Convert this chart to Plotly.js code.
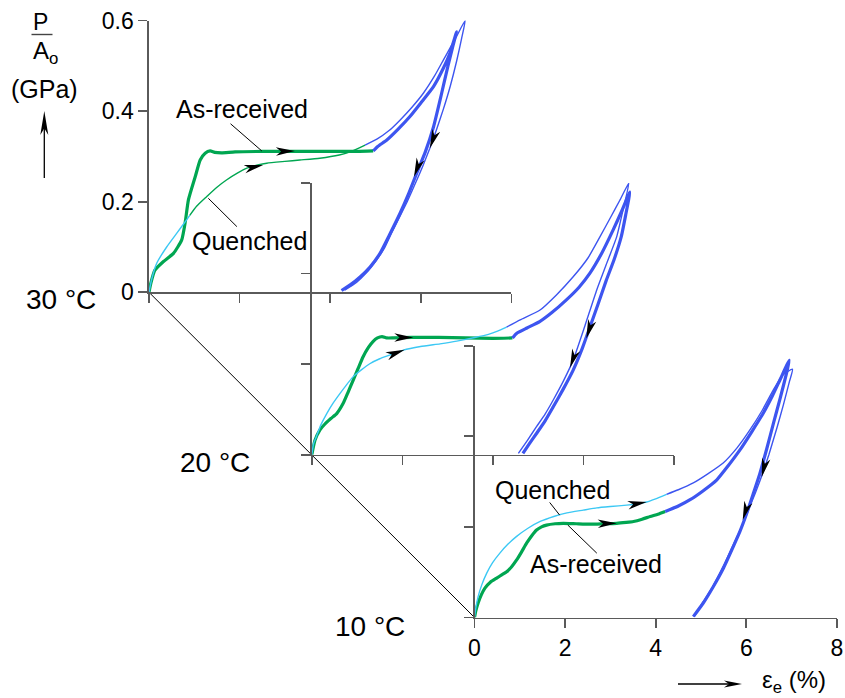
<!DOCTYPE html>
<html><head><meta charset="utf-8">
<script src="https://cdn.plot.ly/plotly-3.0.1.min.js"></script>
<style>html,body{margin:0;padding:0;background:#fff}</style>
</head><body><div id="chart" style="width:845px;height:698px"></div>
<script>
// ---------------- data ----------------
const xTickVals = [0, 2, 4, 6, 8];
const xTickText = ['0', '2', '4', '6', '8'];
const yTickVals = [0, 0.2, 0.4, 0.6];
const yTickText = ['0', '0.2', '0.4', '0.6'];
const panelLabels = ['30 °C', '20 °C', '10 °C'];

// 30 °C
const p30_arGreenX = [0,0.04,0.13,0.32,0.54,0.72,0.8,0.87,1.02,1.13,1.24,1.35,1.45,1.6,1.9,2.5,3.2,4.0,4.6,4.95];
const p30_arGreenY = [0,0.02,0.049,0.068,0.086,0.115,0.155,0.204,0.255,0.292,0.307,0.312,0.309,0.308,0.310,0.311,0.311,0.311,0.311,0.312];
const p30_arBlueX = [4.95,5.05,5.25,5.5,5.76,6.0,6.28,6.5,6.64,6.79,6.7,6.6,6.45,6.28,6.1,5.91,5.72,5.54,5.3,5.1,4.88,4.66,4.45,4.25];
const p30_arBlueY = [0.312,0.322,0.336,0.36,0.388,0.418,0.454,0.495,0.527,0.575,0.54,0.5,0.435,0.365,0.31,0.263,0.215,0.174,0.125,0.086,0.056,0.034,0.017,0.004];
const p30_qCyanX = [0,0.05,0.17,0.39,0.61,0.83,0.9];
const p30_qCyanY = [0,0.025,0.064,0.1,0.13,0.16,0.17];
const p30_qGreenX = [0.9,1.05,1.27,1.5,1.71,1.95,2.16,2.4,2.6,3.0,3.33,3.77,4.2,4.47,4.77];
const p30_qGreenY = [0.17,0.19,0.211,0.232,0.248,0.263,0.274,0.281,0.285,0.289,0.292,0.296,0.303,0.311,0.325];
const p30_qBlueX = [4.77,5.03,5.3,5.54,5.8,6.06,6.3,6.5,6.65,6.79,6.98,6.9,6.79,6.65,6.5,6.35,6.2,6.05,5.9,5.7,5.5,5.35,5.2,5.0,4.8,4.58,4.32];
const p30_qBlueY = [0.325,0.338,0.357,0.38,0.408,0.44,0.477,0.513,0.54,0.565,0.6,0.56,0.51,0.455,0.405,0.36,0.318,0.28,0.245,0.2,0.16,0.13,0.098,0.068,0.043,0.022,0.005];
const p30_arrowTipX = [3.22, 2.52, 6.2, 5.85];
const p30_arrowTipY = [0.312, 0.281, 0.318, 0.255];
const p30_arrowFromX = [2.9, 2.2, 6.35, 5.98];
const p30_arrowFromY = [0.311, 0.274, 0.36, 0.29];

// 20 °C
const p20_arGreenX = [0,0.07,0.18,0.29,0.42,0.55,0.69,0.8,0.91,1.02,1.13,1.25,1.35,1.45,1.55,1.65,1.8,2.2,2.8,3.4,4.0,4.43];
const p20_arGreenY = [0,0.032,0.055,0.068,0.08,0.091,0.113,0.138,0.164,0.19,0.216,0.237,0.25,0.258,0.261,0.258,0.258,0.259,0.259,0.258,0.257,0.258];
const p20_arBlueX = [4.43,4.52,4.75,5.03,5.3,5.62,5.9,6.14,6.4,6.65,6.85,7.02,6.93,6.83,6.67,6.5,6.32,6.14,5.96,5.77,5.55,5.33,5.15,4.96,4.8,4.66];
const p20_arBlueY = [0.258,0.268,0.28,0.294,0.314,0.342,0.37,0.401,0.445,0.496,0.54,0.58,0.53,0.481,0.43,0.385,0.333,0.282,0.232,0.187,0.145,0.106,0.075,0.047,0.024,0.003];
const p20_qCyanX = [0,0.04,0.1,0.2,0.33,0.47,0.62,0.77,0.91,1.1,1.28,1.5,1.72,2.02,2.4,2.83,3.2,3.6,3.9,4.1,4.3];
const p20_qCyanY = [0,0.025,0.04,0.066,0.091,0.114,0.135,0.155,0.172,0.188,0.201,0.212,0.22,0.231,0.239,0.245,0.251,0.259,0.266,0.273,0.282];
const p20_qBlueX = [4.3,4.6,5.03,5.4,5.77,6.1,6.36,6.6,6.8,7.0,6.87,6.73,6.5,6.29,6.03,5.77,5.55,5.33,5.15,4.96,4.76,4.56];
const p20_qBlueY = [0.282,0.298,0.319,0.353,0.393,0.435,0.481,0.525,0.562,0.6,0.54,0.481,0.42,0.364,0.285,0.209,0.162,0.121,0.09,0.062,0.032,0.003];
const p20_arrowTipX = [2.24, 2.05, 6.06, 5.7];
const p20_arrowTipY = [0.259, 0.232, 0.257, 0.192];
const p20_arrowFromX = [1.9, 1.72, 6.2, 5.85];
const p20_arrowFromY = [0.259, 0.22, 0.3, 0.235];

// 10 °C
const p10_arGreenX = [0,0.03,0.08,0.15,0.23,0.35,0.49,0.6,0.71,0.82,0.93,1.04,1.15,1.26,1.37,1.48,1.59,1.78,1.96,2.25,2.55,2.85,3.14,3.35,3.51,3.7,3.88,4.05,4.21];
const p10_arGreenY = [0,0.015,0.032,0.05,0.065,0.078,0.087,0.094,0.101,0.112,0.127,0.145,0.164,0.18,0.193,0.2,0.204,0.207,0.208,0.207,0.206,0.207,0.208,0.21,0.212,0.217,0.223,0.228,0.234];
const p10_arBlueX = [4.21,4.5,4.76,5.05,5.35,5.6,5.86,6.12,6.38,6.58,6.75,6.95,6.89,6.75,6.6,6.45,6.3,6.15,6.01,5.86,5.71,5.5,5.27,5.05,4.83];
const p10_arBlueY = [0.234,0.246,0.26,0.28,0.304,0.335,0.37,0.41,0.452,0.49,0.526,0.568,0.54,0.485,0.429,0.372,0.318,0.272,0.23,0.19,0.156,0.11,0.068,0.032,0.002];
const p10_qCyanX = [0,0.03,0.08,0.16,0.27,0.4,0.56,0.74,0.93,1.18,1.45,1.75,2.04,2.4,2.7,3.0,3.36,3.6,3.8,4.0,4.24];
const p10_qCyanY = [0,0.022,0.046,0.072,0.098,0.121,0.142,0.162,0.179,0.197,0.212,0.223,0.231,0.237,0.242,0.245,0.248,0.251,0.255,0.262,0.272];
const p10_qBlueX = [4.24,4.5,4.83,5.15,5.49,5.8,6.08,6.35,6.6,6.8,7.02,6.95,6.82,6.68,6.5,6.35,6.2,6.05,5.9,5.71,5.5,5.27,5.05,4.85];
const p10_qBlueY = [0.272,0.282,0.297,0.317,0.341,0.375,0.414,0.457,0.503,0.535,0.548,0.52,0.47,0.42,0.36,0.315,0.275,0.238,0.2,0.16,0.115,0.07,0.035,0.002];
const p10_arrowTipX = [3.14, 3.8, 6.34, 5.92];
const p10_arrowTipY = [0.208, 0.255, 0.31, 0.215];
const p10_arrowFromX = [2.8, 3.45, 6.45, 6.03];
const p10_arrowFromY = [0.207, 0.249, 0.355, 0.25];

// ---------------- styling / geometry ----------------
const W = 845, H = 698;
const FONT = 'Liberation Sans, Arial, Helvetica, sans-serif';
const AXC = '#5a5a5a';
const GREEN = '#00a651', CYAN = '#3cc8f4', BLUE = '#3d55f0';
const THICK = 3.2, THIN = 1.4;
const ORIGX = [149, 311.8, 474.5];
const ORIGY = [292.3, 454.8, 617.5];
const LABELX = [60.5, 215, 370];
const LABELY = [299.5, 462, 626];
const PW = 362.4, PH = 271.8;
const XMAX = 8, YMAX = 0.6;
const SX = PW / XMAX, SY = PH / YMAX;

const panels = [
  {arG:[p30_arGreenX,p30_arGreenY], arB:[p30_arBlueX,p30_arBlueY], qC:[p30_qCyanX,p30_qCyanY], qG:[p30_qGreenX,p30_qGreenY], qB:[p30_qBlueX,p30_qBlueY], arr:[p30_arrowTipX,p30_arrowTipY,p30_arrowFromX,p30_arrowFromY]},
  {arG:[p20_arGreenX,p20_arGreenY], arB:[p20_arBlueX,p20_arBlueY], qC:[p20_qCyanX,p20_qCyanY], qG:null, qB:[p20_qBlueX,p20_qBlueY], arr:[p20_arrowTipX,p20_arrowTipY,p20_arrowFromX,p20_arrowFromY]},
  {arG:[p10_arGreenX,p10_arGreenY], arB:[p10_arBlueX,p10_arBlueY], qC:[p10_qCyanX,p10_qCyanY], qG:null, qB:[p10_qBlueX,p10_qBlueY], arr:[p10_arrowTipX,p10_arrowTipY,p10_arrowFromX,p10_arrowFromY]}
];

const traces = [];
const shapes = [];
const annotations = [];
const layout = {
  width: W, height: H, margin: {l:0, r:0, t:0, b:0},
  paper_bgcolor: '#fff', plot_bgcolor: 'rgba(0,0,0,0)',
  showlegend: false, font: {family: FONT, color: '#000'}
};

function seg(xa, ya, d, color, w) {
  traces.push({type:'scatter', mode:'lines', x:d[0], y:d[1], xaxis:xa, yaxis:ya,
    line:{color:color, width:w, shape:'spline', smoothing:0.5}, hoverinfo:'skip'});
}
function arrowHead(xref, yref, tx, ty, fx, fy, sx, sy, L, Wd) {
  const dx = (tx - fx) * sx, dy = (ty - fy) * sy;
  const a = Math.atan2(dy, dx), c = Math.cos(a), s = Math.sin(a);
  const pts = [[0,0],[-L,Wd/2],[-0.72*L,0],[-L,-Wd/2]];
  const p = pts.map(([u,v]) => [u*c - v*s, u*s + v*c]);
  return {type:'path', xref:xref, yref:yref, xsizemode:'pixel', ysizemode:'pixel',
    xanchor:tx, yanchor:ty, path:'M' + p.map(q => q[0].toFixed(2)+','+q[1].toFixed(2)).join('L') + 'Z',
    fillcolor:'#000', line:{width:0}, layer:'above'};
}
function paperText(px, py, text, size, xanchor) {
  annotations.push({xref:'paper', yref:'paper', x:px / W, y:1 - py / H, text:text, showarrow:false,
    xanchor:xanchor || 'center', yanchor:'middle', font:{family:FONT, size:size, color:'#000'}});
}

panels.forEach((P, i) => {
  const sfx = i === 0 ? '' : String(i + 1);
  const xa = 'x' + sfx, ya = 'y' + sfx;
  const x0 = ORIGX[i], y0 = ORIGY[i];
  layout['xaxis' + sfx] = {
    domain:[x0 / W, (x0 + PW) / W], anchor: ya, range:[0, XMAX],
    showline:true, linecolor:AXC, linewidth:1.6, ticks:'outside', ticklen:9, tickwidth:1.6, tickcolor:AXC,
    tickmode:'array', tickvals:xTickVals, ticktext:xTickText, showticklabels: i === 2,
    tickfont:{family:FONT, size:23, color:'#000'}, showgrid:false, zeroline:false, fixedrange:true
  };
  layout['yaxis' + sfx] = {
    domain:[(H - y0) / H, (H - y0 + PH) / H], anchor: xa, range:[0, YMAX],
    showline:true, linecolor:AXC, linewidth:1.6, ticks:'outside', ticklen:9, tickwidth:1.6, tickcolor:AXC,
    tickmode:'array', tickvals:yTickVals, ticktext:yTickText, showticklabels: i === 0,
    tickfont:{family:FONT, size:23, color:'#000'}, showgrid:false, zeroline:false, fixedrange:true
  };
  seg(xa, ya, P.arG, GREEN, THICK);
  seg(xa, ya, P.arB, BLUE, THICK);
  seg(xa, ya, P.qC, CYAN, THIN);
  if (P.qG) seg(xa, ya, P.qG, GREEN, THIN);
  seg(xa, ya, P.qB, BLUE, THIN);
  const [tx, ty, fx, fy] = P.arr;
  tx.forEach((_, k) => shapes.push(arrowHead(xa, ya, tx[k], ty[k], fx[k], fy[k], SX, SY, 19, 8.5)));
  paperText(LABELX[i], LABELY[i], panelLabels[i], 28);
});

// diagonal connecting the panel origins
shapes.push({type:'line', xref:'paper', yref:'paper', x0:ORIGX[0]/W, y0:(H-ORIGY[0])/H, x1:ORIGX[2]/W, y1:(H-ORIGY[2])/H,
  line:{color:'#000', width:1}, layer:'below'});

// curve labels with leader lines
const TXT = {family:FONT, size:25, color:'#000'};
const dataText = (xr, yr, x, y, t) => annotations.push({xref:xr, yref:yr, x:x, y:y, text:t, showarrow:false,
  xanchor:'center', yanchor:'middle', font:TXT});
dataText('x','y',2.06,0.405,'As-received');
dataText('x','y',2.21,0.113,'Quenched');
dataText('x3','y3',1.73,0.281,'Quenched');
dataText('x3','y3',2.69,0.118,'As-received');
const leader = (xr, yr, a, b, c, d) => shapes.push({type:'line', xref:xr, yref:yr, x0:a, y0:b, x1:c, y1:d, line:{color:'#000', width:1}, layer:'above'});
leader('x','y',1.80,0.372,2.49,0.312);
leader('x','y',1.31,0.2075,1.94,0.145);
leader('x3','y3',1.66,0.254,1.88,0.226);
leader('x3','y3',2.06,0.204,2.70,0.142);

// axis titles
paperText(40, 22.5, 'P', 23);
shapes.push({type:'line', xref:'paper', yref:'paper', x0:31.5/W, x1:52.5/W, y0:1-34.5/H, y1:1-34.5/H, line:{color:'#444', width:1.4}});
paperText(31, 53, 'A<sub>o</sub>', 24, 'left');
paperText(44, 89, '(GPa)', 25);
shapes.push({type:'line', xref:'paper', yref:'paper', x0:44.3/W, x1:44.3/W, y0:1-178/H, y1:1-125/H, line:{color:'#000', width:1.3}});
shapes.push(arrowHead('paper','paper',44.3/W,1-111/H,44.3/W,1-150/H,1,1,24,8));
shapes.push({type:'line', xref:'paper', yref:'paper', x0:678/W, x1:730/W, y0:1-684/H, y1:1-684/H, line:{color:'#000', width:1.3}});
shapes.push(arrowHead('paper','paper',742/W,1-684/H,700/W,1-684/H,1,1,18,7));
paperText(760, 681, 'ε<sub>e</sub> (%)', 24, 'left');

layout.shapes = shapes;
layout.annotations = annotations;
Plotly.newPlot('chart', traces, layout, {staticPlot:true, displayModeBar:false});
</script></body></html>
